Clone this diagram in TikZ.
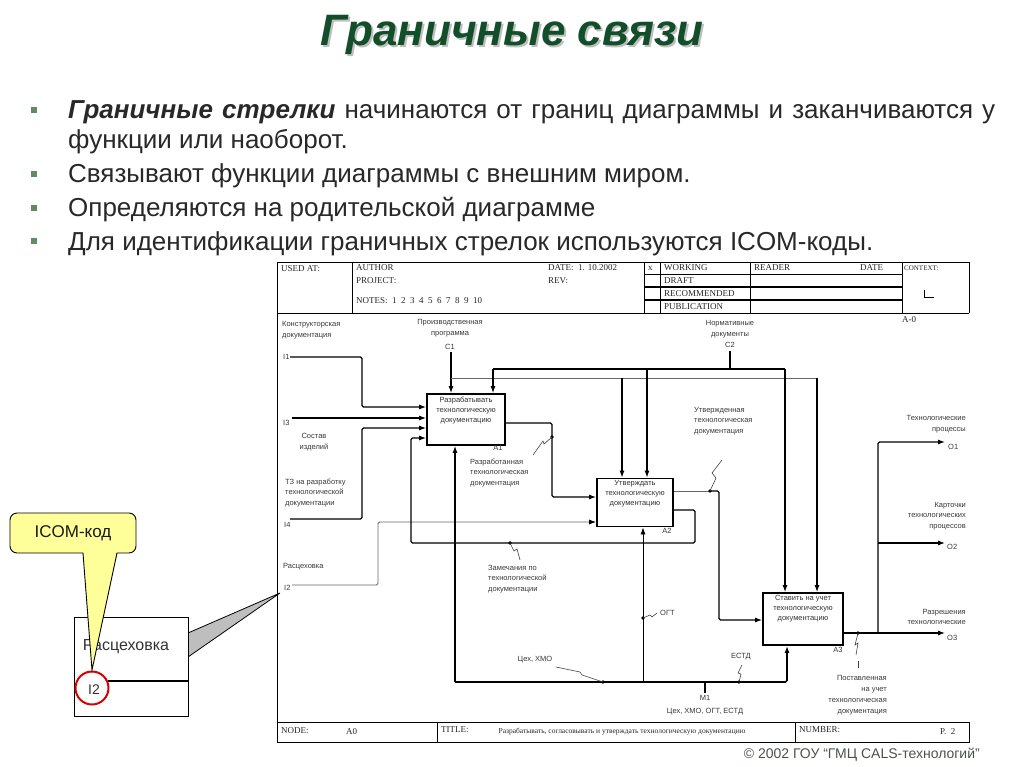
\documentclass[tikz,border=0pt]{standalone}
\usepackage{fontspec}
\setmainfont{Liberation Sans}
\newfontfamily\hdrfont{Liberation Serif}
\usetikzlibrary{arrows.meta}
\definecolor{titlegreen}{RGB}{18,78,42}
\definecolor{bulletgreen}{RGB}{96,140,96}
\definecolor{bodytext}{RGB}{40,40,40}
\definecolor{calloutyellow}{RGB}{255,255,153}
\definecolor{wedgegray}{RGB}{190,190,190}
\definecolor{copygray}{RGB}{70,85,70}
\begin{document}
\begin{tikzpicture}[x=1pt,y=-1pt,
  every node/.style={inner sep=0pt},
  arr/.style={line width=1.1pt,-{Latex[length=7pt,width=5pt]},rounded corners=1.5pt},
  ln/.style={line width=1.1pt,rounded corners=1.5pt},
  gln/.style={line width=0.8pt,black!60,rounded corners=1.5pt},
  garr/.style={line width=0.8pt,black!60,-{Latex[length=7pt,width=5pt,fill=black,color=black]},rounded corners=1.5pt},
  fbox/.style={draw,line width=1.8pt,fill=white},
  btxt/.style={font=\fontsize{7.5}{9.8}\selectfont,align=center,text=black!80},
  lbl/.style={font=\fontsize{7.5}{10.8}\selectfont,text=black!78},
  hdr/.style={font=\hdrfont\fontsize{9}{10}\selectfont,text=black!85,anchor=west},
  dotn/.style={circle,fill=black,minimum size=3.6pt},
  sq/.style={line width=0.6pt,black!75},
  frm/.style={line width=0.9pt},
  bul/.style={fill=bulletgreen,minimum size=6pt},
  btext/.style={font=\fontsize{26}{30}\selectfont,text=bodytext,anchor=base west}
]
\useasboundingbox (0,0) rectangle (1024,767);

% ---------- title ----------
\node[font=\fontsize{44}{50}\selectfont\bfseries\itshape,text=black!25] (tsh) at (514,37) {Граничные связи};
\node[font=\fontsize{44}{50}\selectfont\bfseries\itshape,text=titlegreen] (title) at (512,35) {Граничные связи};

% ---------- bullets ----------
\node[bul] (b1) at (34,110) {};
\node[bul] (b2) at (34,174) {};
\node[bul] (b3) at (34,208) {};
\node[bul] (b4) at (34,241) {};
\node[btext] (t1) at (68,119) {\makebox[927pt][s]{\textbf{\textit{Граничные стрелки}} начинаются от границ диаграммы и заканчиваются у}};
\node[btext] (t1b) at (68,149) {функции или наоборот.};
\node[btext] (t2) at (68,183) {Связывают функции диаграммы с внешним миром.};
\node[btext] (t3) at (68,217) {Определяются на родительской диаграмме};
\node[btext] (t4) at (68,250) {Для идентификации граничных стрелок используются ICOM-коды.};

% ---------- form frame ----------
\draw[frm] (277,742) -- (277,262) -- (969,262) -- (969,313);
\draw[frm] (277,313) -- (969,313);
\draw[frm] (352,262) -- (352,313);
\draw[frm] (644,262) -- (644,313);
\draw[frm] (660,262) -- (660,313);
\draw[frm] (750,262) -- (750,313);
\draw[frm] (902,262) -- (902,313);
\draw[line width=0.6pt] (644,274.5) -- (902,274.5);
\draw[line width=1.3pt] (644,287) -- (902,287);
\draw[line width=1.3pt] (644,300) -- (902,300);
\draw[frm] (277,722) rectangle (969,742);
\draw[frm] (437,722) -- (437,742);
\draw[frm] (795,722) -- (795,742);

\node[hdr] (h1) at (281,269) {USED AT:};
\node[hdr] (h2) at (356,268) {AUTHOR};
\node[hdr] (h3) at (356,281) {PROJECT:};
\node[hdr] (h4) at (356,301) {NOTES:\ \ 1\ \ 2\ \ 3\ \ 4\ \ 5\ \ 6\ \ 7\ \ 8\ \ 9\ \ 10};
\node[hdr] (h5) at (548,268) {DATE:\ \ 1. 10.2002};
\node[hdr] (h6) at (548,281) {REV:};
\node[hdr] (h7) at (648,268) {x};
\node[hdr] (h8) at (664,268) {WORKING};
\node[hdr] (h9) at (664,281) {DRAFT};
\node[hdr] (h10) at (664,293.5) {RECOMMENDED};
\node[hdr] (h11) at (664,306.5) {PUBLICATION};
\node[hdr] (h12) at (754,268) {READER};
\node[hdr] (h13) at (860,268) {DATE};
\node[hdr,font=\hdrfont\fontsize{7}{8}\selectfont] (h14) at (904,268) {CONTEXT:};
\draw[line width=0.8pt] (924,290) -- (924,297) -- (934,297);
\node[hdr] (h15) at (902,320) {A-0};
\node[hdr] (f1) at (281,731) {NODE:};
\node[hdr] (f2) at (346,732) {A0};
\node[hdr] (f3) at (441,730) {TITLE:};
\node[font=\hdrfont\fontsize{7.5}{9}\selectfont,text=black!85] (f4) at (622,732) {Разрабатывать, согласовывать и утверждать технологическую документацию};
\node[hdr] (f5) at (799,730) {NUMBER:};
\node[hdr] (f6) at (940,732) {P.\ \ 2};

% ---------- activity boxes ----------
\node[fbox,minimum width=78pt,minimum height=51pt] (A1) at (466,419.5) {};
\node[fbox,minimum width=76pt,minimum height=48pt] (A2) at (635,502.5) {};
\node[fbox,minimum width=80pt,minimum height=52pt] (A3) at (803,619) {};
\node[btxt,anchor=north] (A1t) at ([yshift=-4pt]A1.north) {Разрабатывать\\технологическую\\документацию};
\node[btxt,anchor=north] (A2t) at ([yshift=-3pt]A2.north) {Утверждать\\технологическую\\документацию};
\node[btxt,anchor=north] (A3t) at ([yshift=-3pt]A3.north) {Ставить на учет\\технологическую\\документацию};
\node[lbl] (A1n) at (498,448) {A1};
\node[lbl] (A2n) at (667,531) {A2};
\node[lbl] (A3n) at (838,650) {A3};

% ---------- boundary points ----------
\coordinate (I1) at (290,357);
\coordinate (I3) at (292,418);
\coordinate (I4) at (290,519);
\coordinate (I2) at (292,585);
\coordinate (C1) at (451,352);
\coordinate (C2) at (730,351);
\coordinate (M1) at (705,693);
\coordinate (O1) at (945,442);
\coordinate (O2) at (945,543);
\coordinate (O3) at (945,633);
\coordinate (c1j) at (451,378);
\coordinate (c1a) at (622,378);
\coordinate (c1b) at (817,378);
\coordinate (c2j) at (730,369);
\coordinate (c2a) at (493,369);
\coordinate (c2b) at (647,369);
\coordinate (c2c) at (785,369);
\coordinate (m0) at (455,682);
\coordinate (m2) at (643,682);
\coordinate (m1) at (705,682);
\coordinate (m3) at (787,682);
\coordinate (oj) at (878,633);

% ---------- inputs ----------
\draw[arr] (I1) -- (362,357) |- ([yshift=12.5pt]A1.west);
\draw[arr] (I3) -- ([yshift=1.5pt]A1.west);
\draw[arr] (I4) -- (362,519) |- ([yshift=-8.5pt]A1.west);
\draw[garr] (I2) -- (378,585) |- ([yshift=-19.5pt]A2.west);
% feedback A2 -> A1
\draw[arr] ([yshift=-7.5pt]A2.east) -- (695,510) -- (695,543) -- (411,543) |- ([yshift=-18.5pt]A1.west);
% A1 -> A2
\draw[arr] ([yshift=-3.5pt]A1.east) -- (552,423) |- ([yshift=5.5pt]A2.west);
% A2 -> A3
\draw[gln] ([yshift=11.5pt]A2.east) -- (710,491);
\draw[arr] (710,491) -- (719,491) |- ([yshift=-1pt]A3.west);

% ---------- controls ----------
\draw[arr] (C1) -- (C1 |- A1.north);
\draw[gln] (c1j) -- (c1b);
\draw[arr] (c1a) -- (c1a |- A2.north);
\draw[arr] (c1b) -- (c1b |- A3.north);
\draw[ln] (C2) -- (c2j);
\draw[ln] (c2a) -- (c2c);
\draw[arr] (c2a) -- (c2a |- A1.north);
\draw[arr] (c2b) -- (c2b |- A2.north);
\draw[arr] (c2c) -- (c2c |- A3.north);

% ---------- mechanisms ----------
\draw[ln] (m0) -- (m1);
\draw[arr] (m0) -- (m0 |- A1.south);
\draw[arr,line width=0.8pt] (m2) -- (m2 |- A2.south);
\draw[ln] (M1) -- (m1);
\draw[arr,line width=1.6pt] (m1) -- (m3) -- (m3 |- A3.south);

% ---------- outputs ----------
\draw[arr] ([yshift=-14pt]A3.east) -- (O3);
\draw[arr] (oj) -- (878,442) -- (O1);
\draw[arr] (878,543) -- (O2);

% ---------- dots and squiggles ----------
\node[dotn] (d1) at (552,437) {};
\node[dotn] (d2) at (710,491) {};
\node[dotn] (d3) at (510,543) {};
\node[dotn] (d4) at (643,618) {};
\node[dotn] (d5) at (603,682) {};
\node[dotn] (d6) at (739,682) {};
\node[dotn] (d7) at (858,633) {};
\draw[sq] (d1.center) -- (544,444) -- (543,441) -- (533,455);
\draw[sq] (d2.center) -- (716,478) -- (712,473) -- (722,460);
\draw[sq] (d3.center) -- (514,551) -- (517,549) -- (520,560);
\draw[sq] (d4.center) -- (650,615) -- (652,617) -- (657,613);
\draw[sq] (d5.center) -- (582,675) -- (580,672) -- (556,667);
\draw[sq] (d6.center) -- (741,674) -- (738,673) -- (742,665);
\draw[sq] (d7.center) -- (855,645) -- (858,643) -- (856,655);
\draw[sq] (858,661) -- (858,668);

% ---------- labels ----------
\node[lbl,anchor=west,align=left] (L1) at (282,330) {Конструкторская\\документация};
\node[lbl,anchor=west] (LI1) at (283,357) {I1};
\node[lbl,anchor=west] (LI3) at (283,423) {I3};
\node[lbl,align=center] (L3) at (314,442) {Состав\\изделий};
\node[lbl,anchor=west,align=left] (L4) at (285,493) {ТЗ на разработку\\технологической\\документации};
\node[lbl,anchor=west] (LI4) at (284,525) {I4};
\node[lbl,anchor=west] (L2) at (283,567) {Расцеховка};
\node[lbl,anchor=west] (LI2) at (284,588) {I2};
\node[lbl,align=center] (LC1) at (450,328) {Производственная\\программа};
\node[lbl] (LC1n) at (450,347) {C1};
\node[lbl,align=center] (LC2) at (730,329) {Нормативные\\документы};
\node[lbl] (LC2n) at (730,345) {C2};
\node[lbl,anchor=west,align=left] (La1) at (470,473) {Разработанная\\технологическая\\документация};
\node[lbl,anchor=west,align=left] (La2) at (694,421) {Утвержденная\\технологическая\\документация};
\node[lbl,anchor=west,align=left] (La3) at (488,579) {Замечания по\\технологической\\документации};
\node[lbl,anchor=west] (Logt) at (660,613) {ОГТ};
\node[lbl] (Lceh) at (535,660) {Цех, ХМО};
\node[lbl] (Lestd) at (741,657) {ЕСТД};
\node[lbl] (LM1) at (705,698) {M1};
\node[lbl] (LM1t) at (705,712) {Цех, ХМО, ОГТ, ЕСТД};
\node[lbl,anchor=east,align=right] (La4) at (887,695) {Поставленная\\на учет\\технологическая\\документация};
\node[lbl,anchor=east,align=right] (LO1) at (966,424) {Технологические\\процессы};
\node[lbl,anchor=west] (LO1n) at (948,447) {O1};
\node[lbl,anchor=east,align=right] (LO2) at (966,516) {Карточки\\технологических\\процессов};
\node[lbl,anchor=west] (LO2n) at (947,547) {O2};
\node[lbl,anchor=east,align=right] (LO3) at (966,617) {Разрешения\\технологические};
\node[lbl,anchor=west] (LO3n) at (947,638) {O3};

% ---------- magnified callout ----------
\fill[wedgegray] (188,633) -- (280,593) -- (188,657) -- cycle;
\draw[line width=0.8pt] (188,633) -- (280,593) -- (188,657);
\node[draw,line width=0.9pt,fill=white,minimum width=114pt,minimum height=99pt] (zbox) at (131,666.5) {};
\node[font=\fontsize{16}{18}\selectfont,text=black!80] (zt) at (126,647) {Расцеховка};
\draw[line width=1.8pt] (108,681) -- (zbox.east |- 0,681);
\node[font=\fontsize{14}{16}\selectfont,text=black!80] (zi) at (94,690) {I2};
\node[draw=red!85!black,line width=2pt,circle,minimum size=33pt] (zc) at (92,688) {};
\draw[line width=0.9pt,fill=calloutyellow,rounded corners=7pt] (92,670) [sharp corners] -- (83,553) [rounded corners=7pt] -- (10,553) -- (10,513) -- (136,513) -- (136,553) [sharp corners] -- (117,553) -- cycle;
\node[font=\fontsize{17}{19}\selectfont,text=black!90] (ct) at (73,533) {ICOM-код};

% ---------- copyright ----------
\node[font=\fontsize{14}{16}\selectfont,text=copygray,anchor=east] (copy) at (980,755) {© 2002 ГОУ “ГМЦ CALS-технологий”};
\end{tikzpicture}
\end{document}
